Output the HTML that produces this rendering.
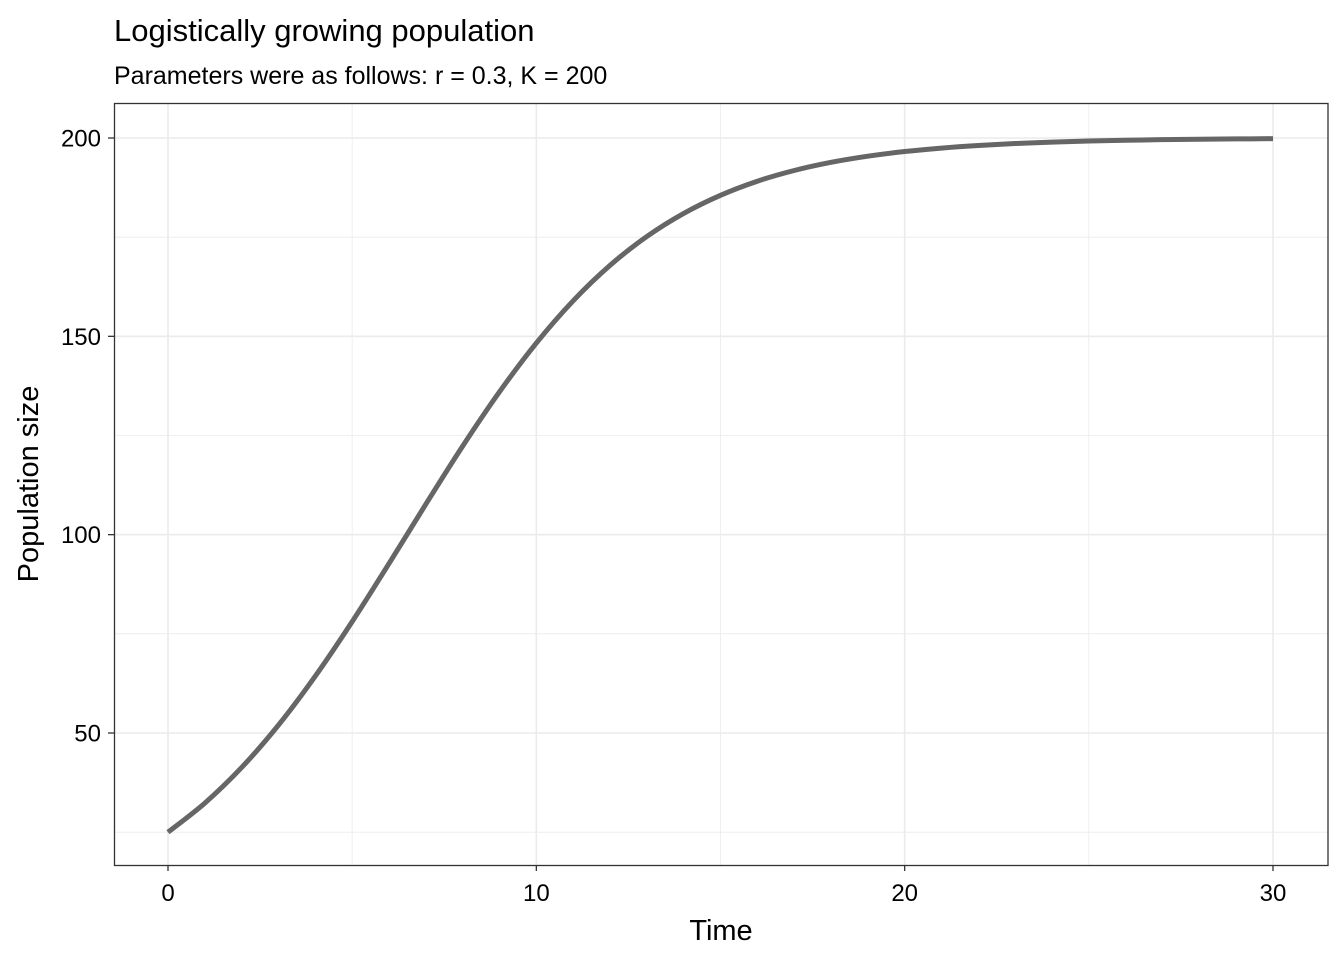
<!DOCTYPE html>
<html><head><meta charset="utf-8"><style>
body{margin:0;background:#fff;}
svg text{font-family:"Liberation Sans",Arial,sans-serif;}
</style></head><body>
<svg width="1344" height="960" viewBox="0 0 1344 960">
<text x="114" y="41" font-size="31" fill="#000">Logistically growing population</text>
<text x="114" y="84" font-size="25" fill="#000">Parameters were as follows: r = 0.3, K = 200</text>
<g id="grid"></g>
<g id="lineg"></g>
<rect x="114.5" y="103.5" width="1213.5" height="762" fill="none" stroke="#333" stroke-width="1.3"/>
<g id="axes"></g>
<text x="721" y="940" font-size="29" text-anchor="middle">Time</text>
<text transform="translate(38,484) rotate(-90)" font-size="29" text-anchor="middle">Population size</text>
</svg>
<script>
const times=[0,1,2,3,4,5,6,7,8,9,10,11,12,13,14,15,16,17,18,19,20,21,22,23,24,25,26,27,28,29,30];
const population=[25,32.33,41.31,52.00,64.35,78.07,92.72,107.68,122.32,136.01,148.31,158.96,167.89,175.17,180.99,185.56,189.11,191.81,193.87,195.42,196.59,197.46,198.11,198.60,198.96,199.23,199.43,199.58,199.69,199.77,199.83];
const xTicks=[0,10,20,30];
const xMinor=[5,15,25];
const yTicks=[50,100,150,200];
const yMinor=[25,75,125,175];
const NS='http://www.w3.org/2000/svg';
const X=v=>168+v*(1273-168)/30;
const Y=v=>733-(v-50)*(733-138)/150;
const grid=document.getElementById('grid'),axes=document.getElementById('axes'),lg=document.getElementById('lineg');
function mk(tag,attrs,parent){const e=document.createElementNS(NS,tag);for(const k in attrs)e.setAttribute(k,attrs[k]);parent.appendChild(e);return e;}
yMinor.forEach(v=>{const l=mk('line',{x1:114,x2:1328,y1:Y(v),y2:Y(v),stroke:'#ebebeb','stroke-width':0.8},grid);

});
xMinor.forEach(v=>{const l=mk('line',{x1:X(v),x2:X(v),y1:103,y2:865,stroke:'#ebebeb','stroke-width':0.8},grid);

});
yTicks.forEach(v=>{const l=mk('line',{x1:114,x2:1328,y1:Y(v),y2:Y(v),stroke:'#ebebeb','stroke-width':1.6},grid);


const t=mk('line',{x1:108,x2:114,y1:Y(v),y2:Y(v),stroke:'#333','stroke-width':1.3},axes);


const tx=mk('text',{x:101,y:Y(v)+8.5,'font-size':24,'text-anchor':'end',fill:'#000'},axes);tx.textContent=v;

});
xTicks.forEach(v=>{const l=mk('line',{x1:X(v),x2:X(v),y1:103,y2:865,stroke:'#ebebeb','stroke-width':1.6},grid);


const t=mk('line',{x1:X(v),x2:X(v),y1:865,y2:871,stroke:'#333','stroke-width':1.3},axes);


const tx=mk('text',{x:X(v),y:901,'font-size':24,'text-anchor':'middle',fill:'#000'},axes);tx.textContent=v;

});
const P=times.map((t,i)=>[X(t),Y(population[i])]);
let d='M'+P[0][0].toFixed(2)+','+P[0][1].toFixed(2);
for(let i=0;i<P.length-1;i++){
  const p0=P[Math.max(i-1,0)],p1=P[i],p2=P[i+1],p3=P[Math.min(i+2,P.length-1)];
  const c1=[p1[0]+(p2[0]-p0[0])/6,p1[1]+(p2[1]-p0[1])/6];
  const c2=[p2[0]-(p3[0]-p1[0])/6,p2[1]-(p3[1]-p1[1])/6];
  d+=' C'+c1[0].toFixed(2)+','+c1[1].toFixed(2)+' '+c2[0].toFixed(2)+','+c2[1].toFixed(2)+' '+p2[0].toFixed(2)+','+p2[1].toFixed(2);
}
const pl=mk('path',{d:d,fill:'none',stroke:'#666','stroke-width':5,'stroke-linejoin':'round','stroke-linecap':'butt'},lg);


</script>
</body></html>
